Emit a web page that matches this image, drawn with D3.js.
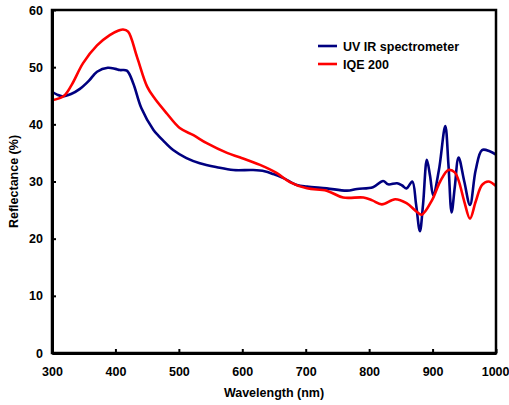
<!DOCTYPE html>
<html>
<head>
<meta charset="utf-8">
<script src="https://cdn.jsdelivr.net/npm/d3@7"></script>
<style>
  html, body { margin: 0; padding: 0; background: #fff; }
  svg { display: block; font-family: "Liberation Sans", Arial, sans-serif; }
</style>
</head>
<body>
<svg id="chart" width="509" height="405"></svg>
<script>
// ---- data ----
const xTicks = [300, 400, 500, 600, 700, 800, 900, 1000];
const yTicks = [0, 10, 20, 30, 40, 50, 60];
const seriesNames = ["UV IR spectrometer", "IQE 200"];

const uvWavelength = [300, 308, 316, 330, 344, 358, 371, 388, 400, 407, 418, 428, 441, 460, 468, 475, 491, 512, 533, 560, 586, 617, 635, 649, 665, 686, 702, 733, 765, 781, 806, 822, 830, 844, 852, 859, 868, 874, 880, 885, 891, 896, 901, 910, 920, 925, 930, 935, 941, 950, 959, 968, 978, 990, 1000];
const uvReflectance = [45.7, 45.2, 44.9, 45.3, 46.2, 47.6, 49.2, 49.9, 49.7, 49.5, 49.4, 47.2, 42.8, 39.0, 38.0, 37.2, 35.5, 34.1, 33.2, 32.5, 32.0, 32.0, 31.8, 31.3, 30.6, 29.4, 29.1, 28.8, 28.4, 28.7, 29.0, 30.1, 29.5, 29.7, 29.3, 28.8, 30.0, 26.0, 21.3, 26.0, 33.8, 31.0, 27.6, 32.0, 39.7, 33.0, 24.6, 29.0, 34.2, 30.0, 25.9, 32.0, 35.5, 35.3, 34.7];

const iqeWavelength = [300, 318, 331, 349, 371, 391, 405, 412, 420, 434, 450, 462, 481, 502, 523, 544, 576, 597, 628, 654, 675, 702, 733, 759, 791, 805, 820, 841, 859, 875, 883, 899, 912, 925, 935, 941, 950, 959, 968, 978, 988, 1000];
const iqeReflectance = [44.2, 44.9, 46.9, 50.7, 53.8, 55.6, 56.4, 56.6, 56.2, 51.8, 46.6, 44.5, 41.9, 39.3, 38.1, 36.7, 35.0, 34.2, 32.9, 31.5, 29.9, 28.8, 28.4, 27.2, 27.2, 26.7, 26.0, 26.9, 26.2, 24.7, 24.2, 26.7, 30.0, 32.0, 31.6, 30.2, 26.5, 23.5, 26.5, 29.4, 30.0, 29.2];

const colors = ["#000080", "#ff0000"];

// ---- layout ----
const svg = d3.select("#chart");
const margin = {left: 52, right: 13, top: 10, bottom: 52};
const W = 509, H = 405;
const x = d3.scaleLinear().domain([300, 1000]).range([margin.left, W - margin.right]);
const y = d3.scaleLinear().domain([0, 60]).range([H - margin.bottom, margin.top]);

const series = [
  {name: seriesNames[0], color: colors[0], pts: uvWavelength.map((w, i) => [w, uvReflectance[i]])},
  {name: seriesNames[1], color: colors[1], pts: iqeWavelength.map((w, i) => [w, iqeReflectance[i]])}
];

const line = d3.line().x(d => x(d[0])).y(d => y(d[1])).curve(d3.curveCatmullRom.alpha(0.5));

series.forEach(s => {
  svg.append("path")
    .datum(s.pts)
    .attr("fill", "none")
    .attr("stroke", s.color)
    .attr("stroke-width", 2.6)
    .attr("stroke-linejoin", "round")
    .attr("d", line);
});

// frame (top & right)
svg.append("rect")
  .attr("x", margin.left).attr("y", margin.top)
  .attr("width", W - margin.right - margin.left)
  .attr("height", H - margin.bottom - margin.top)
  .attr("fill", "none").attr("stroke", "#000").attr("stroke-width", 2.5);

// axes
const xAxis = d3.axisBottom(x).tickValues(xTicks).tickFormat(d3.format("d"))
  .tickSizeInner(-4).tickSizeOuter(0).tickPadding(14);
const yAxis = d3.axisLeft(y).tickValues(yTicks).tickFormat(d3.format("d"))
  .tickSizeInner(-4).tickSizeOuter(0).tickPadding(9);

const gx = svg.append("g").attr("transform", `translate(0,${H - margin.bottom})`).call(xAxis);
const gy = svg.append("g").attr("transform", `translate(${margin.left},0)`).call(yAxis);

[gx, gy].forEach(g => {
  g.select(".domain").attr("stroke", "#000").attr("stroke-width", 3);
  g.selectAll(".tick line").attr("stroke", "#000").attr("stroke-width", 2);
  g.selectAll(".tick text")
    .attr("fill", "#000")
    .attr("font-size", "12.5px")
    .attr("font-weight", "bold")
    .attr("font-family", "Liberation Sans, Arial, sans-serif");
});
// keep the last x label inside the canvas
gx.selectAll(".tick text").filter(d => d === 1000).attr("text-anchor", "end").attr("dx", "13px");

// axis titles
svg.append("text")
  .attr("x", (margin.left + W - margin.right) / 2)
  .attr("y", 397)
  .attr("text-anchor", "middle")
  .attr("font-size", "12.5px").attr("font-weight", "bold")
  .text("Wavelength (nm)");

svg.append("text")
  .attr("transform", `translate(18,${(margin.top + H - margin.bottom) / 2}) rotate(-90)`)
  .attr("text-anchor", "middle")
  .attr("font-size", "12.5px").attr("font-weight", "bold")
  .text("Reflectance (%)");

// legend
const lg = svg.append("g").attr("transform", "translate(318,46)");
series.forEach((s, i) => {
  lg.append("line")
    .attr("x1", 0).attr("x2", 19)
    .attr("y1", i * 18).attr("y2", i * 18)
    .attr("stroke", s.color).attr("stroke-width", 2.6);
  lg.append("text")
    .attr("x", 25).attr("y", i * 18 + 4.5)
    .attr("font-size", "12.5px").attr("font-weight", "bold")
    .text(s.name);
});
</script>
</body>
</html>
